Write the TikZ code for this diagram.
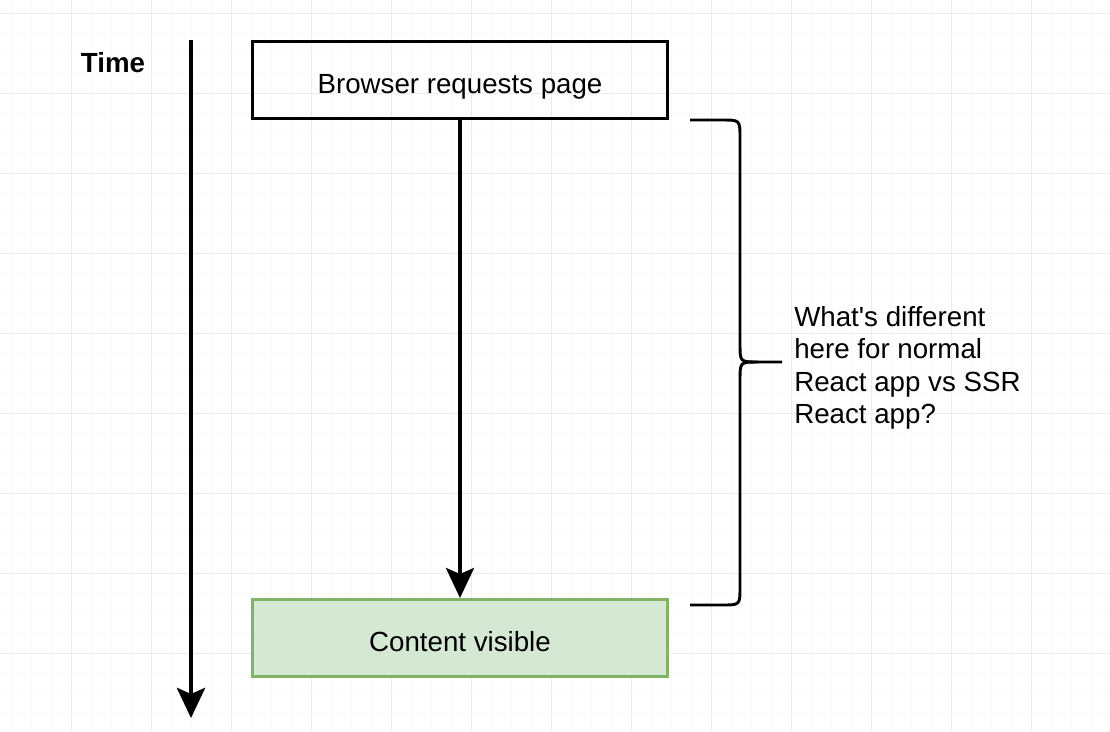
\documentclass[tikz,border=0pt]{standalone}
\usepackage{fontspec}
\setmainfont{Liberation Sans}
\usetikzlibrary{arrows.meta}
\definecolor{gridmajor}{HTML}{ECECEC}
\definecolor{gridminor}{HTML}{F9F9F9}
\definecolor{okfill}{HTML}{D5E8D4}
\definecolor{okline}{HTML}{82B366}
\tikzset{
  stepbox/.style={draw=black, line width=2.1pt, minimum width=10.375cm, minimum height=1.925cm, inner sep=0pt, text height=18.5pt, text depth=0pt, font=\fontsize{19.7}{23.1}\selectfont},
  flow/.style={line width=2.8pt, -{Stealth[length=0.75cm, width=0.7cm, inset=0.15cm]}},
  brace/.style={line width=2.1pt, line join=round}
}

\begin{document}
\begin{tikzpicture}[x=0.025cm, y=-0.025cm]
			%%%%% START %%%%%
			\useasboundingbox[fill=white] (0,0) rectangle (1110,731);
			
			\foreach \gx in {11,31,...,1110} \draw[gridminor, line width=0.5pt] (\gx,0) -- (\gx,731);
			\foreach \gy in {13,33,...,731} \draw[gridminor, line width=0.5pt] (0,\gy) -- (1110,\gy);
			\foreach \gx in {71,151,...,1110} \draw[gridmajor, line width=0.7pt] (\gx,0) -- (\gx,731);
			\foreach \gy in {13,93,...,731} \draw[gridmajor, line width=0.7pt] (0,\gy) -- (1110,\gy);
			
			\node[font=\fontsize{19.7}{23.1}\selectfont\bfseries] (time) at (113,63) {Time};
			\coordinate (tstart) at (191,40);
			\coordinate (tend) at (191,718);
			\draw[flow, line width=3.5pt] (tstart) -- (tend);
			
			\node[stepbox] (browser) at (460,80) {Browser requests page};
			\node[stepbox, fill=okfill, draw=okline] (content) at (460,638) {Content visible};
			\draw[flow] (browser) -- (content);
			
			\draw[brace] (690,120) -- (722,120) .. controls (740,120) .. (740,138) -- (740,344) .. controls (740,362) .. (758,362) -- (782,362);
			\draw[brace] (758,362) .. controls (740,362) .. (740,380) -- (740,587) .. controls (740,605) .. (722,605) -- (690,605);
			
			\node[anchor=north west, align=left, inner sep=0pt, font=\fontsize{19.7}{23.1}\selectfont] (question) at (794,306) {What\textquotesingle s different\\here for normal\\React app vs SSR\\React app?};
			
			%%%%% END %%%%%
\end{tikzpicture}
\end{document}
